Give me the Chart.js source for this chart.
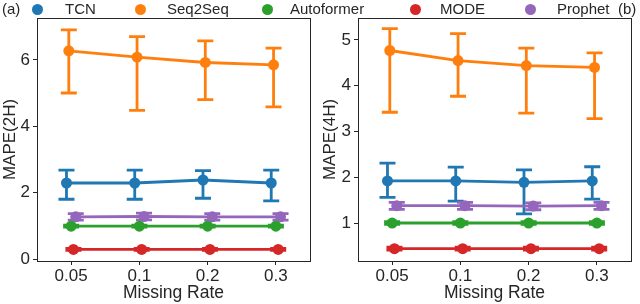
<!DOCTYPE html>
<html>
<head>
<meta charset="utf-8">
<script src="https://cdn.jsdelivr.net/npm/chart.js@4.4.1/dist/chart.umd.min.js"></script>
<style>
  html, body { margin: 0; padding: 0; background: #fff; }
  #wrap { position: relative; width: 640px; height: 304px; font-family: "Liberation Sans", Arial, sans-serif; color: #262626; }
  .panel { position: absolute; top: 0; width: 320px; height: 304px; }
  .lg { position: absolute; top: 0; font-size: 15px; line-height: 18px; white-space: nowrap; }
  .dot { position: absolute; top: 4px; width: 11px; height: 11px; border-radius: 50%; }
</style>
</head>
<body>
<div id="wrap">
  <div class="panel" style="left:0"><canvas id="c2h" width="320" height="304"></canvas></div>
  <div class="panel" style="left:320px"><canvas id="c4h" width="320" height="304"></canvas></div>
  <div id="legend"></div>
</div>
<script>
// categories and series
const rates = ['0.05', '0.1', '0.2', '0.3'];
const models = ['TCN', 'Seq2Seq', 'Autoformer', 'MODE', 'Prophet'];
const colors = ['#1f77b4', '#ff7f0e', '#2ca02c', '#d62728', '#9467bd'];

// MAPE(2H): mean, lower and upper error bar
const tcn2h     = [2.29, 2.29, 2.38, 2.29];
const tcn2hLo   = [1.80, 1.80, 1.83, 1.75];
const tcn2hHi   = [2.68, 2.68, 2.66, 2.68];
const seq2h     = [6.27, 6.08, 5.92, 5.85];
const seq2hLo   = [5.00, 4.48, 4.80, 4.58];
const seq2hHi   = [6.90, 6.70, 6.57, 6.35];
const auto2h    = [0.99, 0.99, 0.99, 0.99];
const auto2hLo  = [0.96, 0.96, 0.96, 0.96];
const auto2hHi  = [1.02, 1.02, 1.02, 1.02];
const mode2h    = [0.29, 0.29, 0.29, 0.29];
const mode2hLo  = [0.26, 0.26, 0.26, 0.26];
const mode2hHi  = [0.32, 0.32, 0.32, 0.32];
const prop2h    = [1.27, 1.28, 1.27, 1.27];
const prop2hLo  = [1.17, 1.18, 1.17, 1.17];
const prop2hHi  = [1.37, 1.38, 1.37, 1.37];

// MAPE(4H)
const tcn4h     = [1.92, 1.92, 1.89, 1.92];
const tcn4hLo   = [1.56, 1.48, 1.20, 1.52];
const tcn4hHi   = [2.31, 2.22, 2.16, 2.23];
const seq4h     = [4.77, 4.55, 4.44, 4.40];
const seq4hLo   = [3.42, 3.77, 3.40, 3.28];
const seq4hHi   = [5.25, 5.14, 4.82, 4.72];
const auto4h    = [1.00, 1.00, 1.00, 1.00];
const auto4hLo  = [0.97, 0.97, 0.97, 0.97];
const auto4hHi  = [1.03, 1.03, 1.03, 1.03];
const mode4h    = [0.44, 0.44, 0.44, 0.44];
const mode4hLo  = [0.41, 0.41, 0.41, 0.41];
const mode4hHi  = [0.47, 0.47, 0.47, 0.47];
const prop4h    = [1.38, 1.38, 1.37, 1.38];
const prop4hLo  = [1.30, 1.30, 1.29, 1.30];
const prop4hHi  = [1.45, 1.45, 1.44, 1.45];

const ticks2h = [0, 2, 4, 6];
const ticks4h = [1, 2, 3, 4, 5];

// seaborn-like dodge of the hue levels
const dodge = [-0.068, -0.034, 0, 0.034, 0.068];

const FONT = '"Liberation Sans", Arial, sans-serif';
const INK = '#262626';

function series(i, mean, lo, hi) {
    return {
        label: models[i],
        data: mean.map((v, k) => ({ x: k + dodge[i], y: v, lo: lo[k], hi: hi[k] })),
        borderColor: colors[i],
        backgroundColor: colors[i],
        borderWidth: 2.8,
        pointRadius: 5.5,
        pointHoverRadius: 5.5,
        pointBorderWidth: 0,
        order: i,
    };
}

// vertical error bars with caps, read through the chart's scales
const errorBars = {
    id: 'errorBars',
    beforeDatasetsDraw(chart) {
        const { ctx, scales: { x, y } } = chart;
        ctx.save();
        chart.data.datasets.forEach(ds => {
            ctx.strokeStyle = ds.borderColor;
            ctx.lineWidth = 2.8;
            ds.data.forEach(p => {
                const px = x.getPixelForValue(p.x);
                const top = y.getPixelForValue(p.hi);
                const bot = y.getPixelForValue(p.lo);
                ctx.beginPath();
                ctx.moveTo(px, top); ctx.lineTo(px, bot);
                ctx.moveTo(px - 8, top); ctx.lineTo(px + 8, top);
                ctx.moveTo(px - 8, bot); ctx.lineTo(px + 8, bot);
                ctx.stroke();
            });
        });
        ctx.restore();
    },
    afterDraw(chart) {
        const { ctx, chartArea: a } = chart;
        ctx.save();
        ctx.strokeStyle = INK;
        ctx.lineWidth = 1;
        ctx.strokeRect(Math.round(a.left) + 0.5, Math.round(a.top) + 0.5,
            Math.round(a.right - a.left), Math.round(a.bottom - a.top));
        ctx.restore();
    },
};

function makeChart(id, datasets, yTitle, yMin, yMax, yTicks, padRight, yWidth) {
    return new Chart(document.getElementById(id), {
        type: 'line',
        data: { datasets },
        plugins: [errorBars],
        options: {
            responsive: false,
            animation: false,
            layout: { padding: { left: 0, right: padRight, top: 18, bottom: 0 } },
            plugins: { legend: { display: false }, tooltip: { enabled: false } },
            scales: {
                x: {
                    type: 'linear',
                    min: -0.5,
                    max: 3.5,
                    afterBuildTicks: s => { s.ticks = rates.map((_, k) => ({ value: k })); },
                    afterFit: s => { s.height = 43; },
                    ticks: {
                        callback: v => rates[v],
                        color: INK,
                        font: { family: FONT, size: 17 },
                        padding: 1,
                        maxRotation: 0,
                    },
                    grid: { drawOnChartArea: false, drawTicks: true, tickLength: 4, color: INK },
                    border: { display: false },
                    title: {
                        display: true,
                        text: 'Missing Rate',
                        color: INK,
                        font: { family: FONT, size: 17.5 },
                        padding: { top: 0, bottom: 0 },
                    },
                },
                y: {
                    min: yMin,
                    max: yMax,
                    afterBuildTicks: s => { s.ticks = yTicks.map(v => ({ value: v })); },
                    afterFit: s => { s.width = yWidth; },
                    ticks: {
                        color: INK,
                        font: { family: FONT, size: 17 },
                        padding: 3,
                    },
                    grid: { drawOnChartArea: false, drawTicks: true, tickLength: 4, color: INK },
                    border: { display: false },
                    title: {
                        display: true,
                        text: yTitle,
                        color: INK,
                        font: { family: FONT, size: 17 },
                        padding: { top: 0, bottom: 0 },
                    },
                },
            },
        },
    });
}

makeChart('c2h', [
    series(0, tcn2h, tcn2hLo, tcn2hHi),
    series(1, seq2h, seq2hLo, seq2hHi),
    series(2, auto2h, auto2hLo, auto2hHi),
    series(3, mode2h, mode2hLo, mode2hHi),
    series(4, prop2h, prop2hLo, prop2hHi),
], 'MAPE(2H)', -0.06, 7.26, ticks2h, 10, 37);

makeChart('c4h', [
    series(0, tcn4h, tcn4hLo, tcn4hHi),
    series(1, seq4h, seq4hLo, seq4hHi),
    series(2, auto4h, auto4hLo, auto4hHi),
    series(3, mode4h, mode4hLo, mode4hHi),
    series(4, prop4h, prop4hLo, prop4hHi),
], 'MAPE(4H)', 0.17, 5.48, ticks4h, 9, 38);

// figure legend across the top
const legendDotX = [32, 135, 262, 410, 525];
const legendTextX = [65, 167, 290, 440, 557];
const legend = document.getElementById('legend');
models.forEach((m, i) => {
    const d = document.createElement('span');
    d.className = 'dot';
    d.style.left = legendDotX[i] + 'px';
    d.style.background = colors[i];
    legend.appendChild(d);
    const t = document.createElement('span');
    t.className = 'lg';
    t.style.left = legendTextX[i] + 'px';
    t.textContent = m;
    legend.appendChild(t);
});
[['(a)', 2], ['(b)', 618]].forEach(([s, x]) => {
    const t = document.createElement('span');
    t.className = 'lg';
    t.style.left = x + 'px';
    t.textContent = s;
    legend.appendChild(t);
});
</script>
</body>
</html>
